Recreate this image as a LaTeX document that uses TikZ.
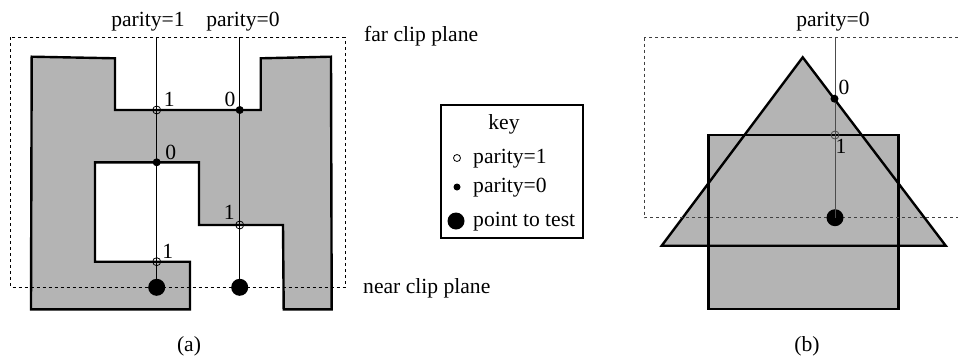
\documentclass[tikz,border=0pt]{standalone}
\usepackage{fontspec}
\setmainfont{Liberation Serif}
\definecolor{shadegray}{RGB}{180,180,180}
\begin{document}
\begin{tikzpicture}[x=1pt,y=-1pt,
  txt/.style={font=\fontsize{21.6}{26}\selectfont, inner sep=0pt},
  polyfill/.style={draw=black, line width=2.4pt, fill=shadegray, line join=miter},
  clipbox/.style={draw=black, dash pattern=on 3pt off 3pt, line width=0.9pt},
  ray/.style={line width=0.9pt},
  opendot/.style={circle, draw, line width=0.8pt, minimum size=8pt, inner sep=0pt},
  smalldot/.style={circle, fill, minimum size=8pt, inner sep=0pt},
  bigdot/.style={circle, fill, minimum size=17pt, inner sep=0pt}]
\useasboundingbox (0,0) rectangle (958,362);

% ---------- (a) ----------
\draw[polyfill] (31.7,56.7) -- (115,58.3) -- (115,110) -- (260.7,110) -- (260.7,58.3)
  -- (331,56.7) -- (331.7,309.3) -- (283.7,309.3) -- (283,225) -- (199,225) -- (199,162.3)
  -- (95,162.3) -- (95,261.7) -- (190,261.7) -- (190,309.3) -- (31,309.3) -- cycle;
\draw[clipbox] (10.7,37.3) rectangle (345,287.3);

\coordinate (rA) at (156.7,37.3);
\coordinate (rB) at (239.7,37.3);
\node[bigdot] (tA) at (156.7,287.3) {};
\node[bigdot] (tB) at (239.7,287.3) {};
\draw[ray] (rA) -- (tA.center);
\draw[ray] (rB) -- (tB.center);

\node[opendot] (a1) at (156.7,110) {};
\node[smalldot] (a2) at (156.7,162.3) {};
\node[opendot] (a3) at (156.7,261.7) {};
\node[smalldot] (b1) at (239.7,110) {};
\node[opendot] (b2) at (239.7,225) {};

\node[txt] (la1) at (169.3,99) {1};
\node[txt] (la2) at (170.7,152.7) {0};
\node[txt] (la3) at (167.7,251.7) {1};
\node[txt] (lb1) at (230,99) {0};
\node[txt] (lb2) at (229.3,212) {1};

\node[txt, anchor=base] (pa) at (148,26) {parity=1};
\node[txt, anchor=base] (pb) at (243,26) {parity=0};
\node[txt, anchor=base west] (far) at (364,41.7) {far clip plane};
\node[txt, anchor=base west] (near) at (363,293) {near clip plane};
\node[txt] (capa) at (189,346) {(a)};

% ---------- key ----------
\node[draw, line width=2pt, minimum width=142pt, minimum height=133pt, inner sep=0pt] (keybox) at (512,171.5) {};
\node[txt, anchor=base] (keyt) at (504,129) {key};
\node[circle, draw, line width=0.8pt, minimum size=7pt, inner sep=0pt] (k1) at (457,158) {};
\node[circle, fill, minimum size=7pt, inner sep=0pt] (k2) at (457,187) {};
\node[bigdot] (k3) at (456,221) {};
\node[txt, anchor=base west] (kt1) at (473,163) {parity=1};
\node[txt, anchor=base west] (kt2) at (473,192) {parity=0};
\node[txt, anchor=base west] (kt3) at (473,226) {point to test};

% ---------- (b) ----------
\fill[shadegray] (802.7,57.3) -- (945.7,245.7) -- (661.7,245.7) -- cycle;
\fill[shadegray] (708.3,135) rectangle (898.3,309);
\draw[line width=2.4pt, line join=miter] (802.7,57.3) -- (945.7,245.7) -- (661.7,245.7) -- cycle;
\draw[line width=2.4pt] (708.3,135) rectangle (898.3,309);
\draw[clipbox, draw=black!75] (644,37.7) rectangle (975,217.7);

\coordinate (rC) at (835,37.7);
\node[bigdot] (tC) at (835,217.7) {};
\draw[ray, black!70] (rC) -- (tC.center);
\node[smalldot] (c1) at (834.5,98.7) {};
\node[opendot, draw=black!70] (c2) at (835,135) {};
\node[txt] (lc1) at (844,87.3) {0};
\node[txt] (lc2) at (841,146.7) {1};

\node[txt, anchor=base] (pc) at (833,26) {parity=0};
\node[txt] (capb) at (807,346) {(b)};
\end{tikzpicture}
\end{document}
